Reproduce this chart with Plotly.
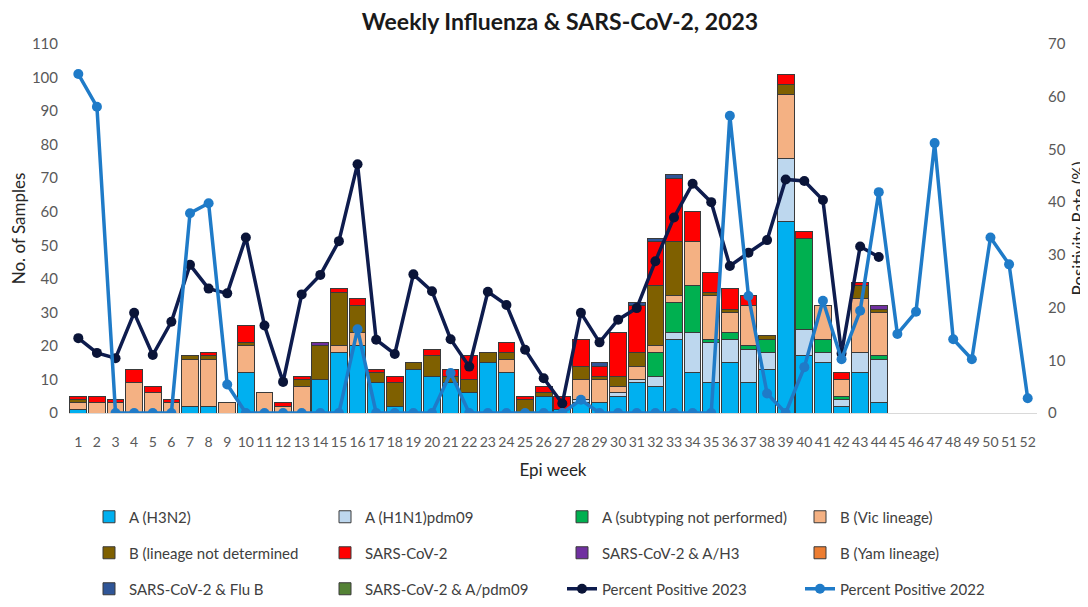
import plotly.graph_objects as go

weeks = [str(i) for i in range(1, 53)]

# Bar series (weeks 1-44)
a_h3n2 = [1,0,0,0,0,0,2,2,0,12,0,0,0,10,18,20,9,2,13,11,9,6,15,12,0,5,1,3,3,5,9,8,22,12,9,15,9,13,57,17,15,2,12,3]
a_h1n1 = [0,0,0,0,0,0,0,0,0,0,0,0,0,0,0,0,0,0,0,0,0,0,0,0,0,0,0,1,0,1,1,3,2,12,12,7,10,5,19,8,3,2,6,13]
a_unsub = [0,0,0,0,0,0,0,0,0,0,0,0,0,0,0,0,0,0,0,0,0,0,0,0,0,0,0,0,0,0,0,7,9,14,1,2,1,4,0,27,4,1,0,1]
b_vic = [2,3,3,9,6,3,14,14,3,8,6,2,8,0,2,4,0,0,0,0,0,0,0,4,0,0,0,6,7,2,4,2,2,13,13,6,12,0,19,0,10,5,16,13]
b_lnd = [1,0,0,0,0,0,1,1,0,1,0,0,2,10,16,8,3,7,2,6,2,4,3,2,4,1,0,4,1,3,4,18,16,0,1,1,0,1,3,0,0,0,4,1]
sars = [1,2,1,4,2,1,0,1,0,5,0,1,1,0,1,2,1,2,0,2,2,7,0,3,1,2,4,8,3,13,14,13,19,9,6,6,3,0,3,2,0,2,1,0]
sars_h3 = [0]*13 + [1] + [0]*29 + [1]
b_yam = [0]*44
sars_flub = [0]*28 + [1,0,1,1,1] + [0]*11
sars_pdm = [0]*44

# Percent positive lines
pct_2023 = [14.2,11.4,10.4,19.0,11.0,17.3,28.1,23.6,22.7,33.3,16.6,5.9,22.5,26.2,32.6,47.2,
            13.9,11.2,26.3,23.1,14.0,8.8,23.0,20.5,12.0,6.6,1.8,19.0,13.4,17.7,19.9,28.8,
            37.1,43.5,40.0,27.9,30.4,32.8,44.3,44.0,40.4,11.3,31.6,29.6]
pct_2022 = [64.3,58.1,0,0,0,0,37.9,39.8,5.4,0,0,0,0,0,0,15.9,0,0,0,0,7.6,0,0,0,0,0,0,2.5,
            0,0,0,0,0,0,0,56.4,22.2,3.7,0,8.7,21.3,10.2,19.4,41.9,15.0,19.2,51.2,14.0,10.2,33.3,28.2,2.8]

bar_series = [
    ("A (H3N2)", a_h3n2, "#00B0F0"),
    ("A (H1N1)pdm09", a_h1n1, "#BDD7EE"),
    ("A (subtyping not performed)", a_unsub, "#00B050"),
    ("B (Vic lineage)", b_vic, "#F4B183"),
    ("B (lineage not determined", b_lnd, "#7F6000"),
    ("SARS-CoV-2", sars, "#FF0000"),
    ("SARS-CoV-2 & A/H3", sars_h3, "#7030A0"),
    ("B (Yam lineage)", b_yam, "#ED7D31"),
    ("SARS-CoV-2 & Flu B", sars_flub, "#2F5597"),
    ("SARS-CoV-2 & A/pdm09", sars_pdm, "#548235"),
]

FONT = "Lato, Arial"

def legend_id(i):
    return "legend" if i == 0 else "legend%d" % (i + 1)

fig = go.Figure()
for i, (name, vals, color) in enumerate(bar_series):
    fig.add_trace(go.Bar(
        x=weeks[:len(vals)], y=vals, name=name, legend=legend_id(i), showlegend=True,
        marker=dict(color=color, line=dict(color="#3a3a3a", width=1)),
    ))

fig.add_trace(go.Scatter(
    x=weeks[:len(pct_2023)], y=pct_2023, name="Percent Positive 2023", legend=legend_id(10),
    yaxis="y2", mode="lines+markers", showlegend=True,
    line=dict(color="#0E1C4E", width=3.5), marker=dict(color="#0A1438", size=10),
))
fig.add_trace(go.Scatter(
    x=weeks, y=pct_2022, name="Percent Positive 2022", legend=legend_id(11),
    yaxis="y2", mode="lines+markers", showlegend=True,
    line=dict(color="#1F7BC8", width=3.5), marker=dict(color="#1F7BC8", size=10),
))

# page offset (body margin) compensation
OFF = 8
W, H = 1088, 607
plot_l, plot_r, plot_t, plot_b = 69 - OFF, 1037 - OFF, 44 - OFF, 413 - OFF
plot_w = plot_r - plot_l
plot_h = plot_b - plot_t

def xpos(px):
    return (px - plot_l) / plot_w

def ypos(py):
    return (plot_b - (py - OFF)) / plot_h

col_text_x = [131, 367, 604, 842]
row_y = [517, 553, 589]

legends = {}
for i in range(12):
    r, c = divmod(i, 4)
    legends[legend_id(i)] = dict(
        orientation="h", xanchor="left", yanchor="middle",
        x=xpos(col_text_x[c] - 50), y=ypos(row_y[r]),
        font=dict(family=FONT, size=15, color="#404040"),
        bgcolor="rgba(0,0,0,0)", itemwidth=30,
    )

fig.update_layout(
    width=W, height=H,
    showlegend=True,
    margin=dict(l=plot_l, r=W - plot_r, t=plot_t, b=H - plot_b, autoexpand=False),
    paper_bgcolor="white", plot_bgcolor="white",
    barmode="stack", bargap=0.1,
    title=dict(text="<b>Weekly Influenza & SARS-CoV-2, 2023</b>", x=(560 - OFF) / W, xanchor="center",
               y=1 - (22 - OFF) / H, yanchor="middle",
               font=dict(family=FONT, size=23, color="#1a1a1a")),
    font=dict(family=FONT, color="#595959"),
    xaxis=dict(type="category", categoryorder="array", categoryarray=weeks, automargin=False,
               range=[-0.5, 51.5], showgrid=False, showline=True, linecolor="#d9d9d9",
               linewidth=1, ticks="", tickangle=0, ticklabelstandoff=16,
               tickfont=dict(family=FONT, size=14, color="#595959"),
               title=dict(text="Epi week", font=dict(family=FONT, size=17, color="#262626"),
                          standoff=15),
               zeroline=False),
    yaxis=dict(range=[0, 110], dtick=10, showgrid=False, zeroline=False, showline=False,
               automargin=False, ticklabelstandoff=10,
               tickfont=dict(family=FONT, size=15, color="#595959"),
               title=dict(text="No. of Samples", font=dict(family=FONT, size=17, color="#262626"),
                          standoff=13)),
    yaxis2=dict(range=[0, 70], dtick=10, overlaying="y", side="right", showgrid=False,
                automargin=False, zeroline=False, showline=False, ticklabelstandoff=10,
                tickfont=dict(family=FONT, size=15, color="#595959"),
                title=dict(text="Positivity Rate (%)", font=dict(family=FONT, size=17, color="#262626"),
                           standoff=8)),
    **legends,
)

fig.write_html("out.html")
